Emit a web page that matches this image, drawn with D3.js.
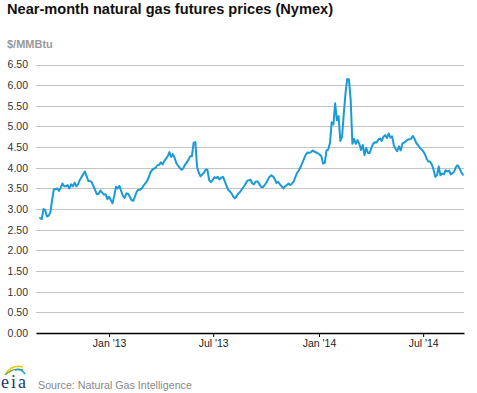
<!DOCTYPE html>
<html>
<head>
<meta charset="utf-8">
<script src="https://cdn.jsdelivr.net/npm/d3@7/dist/d3.min.js"></script>
<style>
  html, body { margin: 0; padding: 0; background: #fff; }
  svg { display: block; font-family: "Liberation Sans", Arial, sans-serif; }
</style>
</head>
<body>
<svg id="chart" width="477" height="393"></svg>
<script>
// ---- Data ----
const title = "Near-month natural gas futures prices (Nymex)";
const unitLabel = "$/MMBtu";
const sourceText = "Source: Natural Gas Intelligence";
const seriesStart = "2012-09-03";   // first observation
const stepDays = 3;                 // spacing between observations
const prices = [
  2.78, 2.76, 3.00, 2.98, 2.82, 2.84, 2.92, 3.22, 3.48, 3.48,
  3.50, 3.44, 3.52, 3.62, 3.55, 3.55, 3.58, 3.50, 3.60, 3.55,
  3.64, 3.55, 3.60, 3.70, 3.77, 3.84, 3.91, 3.80, 3.68, 3.68,
  3.65, 3.55, 3.45, 3.36, 3.37, 3.45, 3.40, 3.35, 3.36, 3.24,
  3.30, 3.22, 3.14, 3.32, 3.54, 3.50, 3.56, 3.44, 3.32, 3.27,
  3.38, 3.37, 3.30, 3.22, 3.20, 3.30, 3.42, 3.47, 3.47, 3.50,
  3.57, 3.62, 3.68, 3.77, 3.89, 3.95, 3.98, 4.00, 4.06, 4.07,
  4.13, 4.08, 4.16, 4.22, 4.28, 4.38, 4.26, 4.33, 4.24, 4.11,
  4.05, 4.00, 3.95, 3.99, 4.07, 4.13, 4.19, 4.28, 4.28, 4.60,
  4.62, 4.02, 3.88, 3.79, 3.84, 3.88, 3.96, 3.95, 3.70, 3.65,
  3.70, 3.77, 3.75, 3.78, 3.72, 3.76, 3.78, 3.68, 3.57, 3.47,
  3.43, 3.38, 3.30, 3.26, 3.32, 3.38, 3.42, 3.48, 3.54, 3.60,
  3.68, 3.70, 3.71, 3.62, 3.60, 3.67, 3.67, 3.61, 3.54, 3.53,
  3.57, 3.63, 3.71, 3.78, 3.82, 3.79, 3.73, 3.63, 3.66, 3.60,
  3.55, 3.50, 3.55, 3.58, 3.62, 3.58, 3.62, 3.67, 3.78, 3.88,
  3.94, 4.02, 4.12, 4.22, 4.32, 4.37, 4.36, 4.38, 4.42, 4.39,
  4.37, 4.35, 4.32, 4.28, 4.10, 4.12, 4.42, 4.44, 4.60, 5.10,
  5.05, 5.56, 5.15, 5.25, 4.65, 4.75, 5.30, 5.80, 6.15, 6.14,
  5.65, 4.58, 4.70, 4.58, 4.67, 4.58, 4.43, 4.55, 4.31, 4.48,
  4.36, 4.36, 4.48, 4.58, 4.62, 4.61, 4.68, 4.71, 4.65, 4.75,
  4.79, 4.72, 4.83, 4.73, 4.76, 4.55, 4.46, 4.40, 4.52, 4.42,
  4.59, 4.61, 4.64, 4.68, 4.69, 4.70, 4.77, 4.70, 4.60, 4.55,
  4.49, 4.44, 4.40, 4.33, 4.22, 4.15, 4.15, 4.08, 3.96, 3.78,
  3.82, 4.03, 3.82, 3.86, 3.84, 3.94, 3.91, 3.93, 3.84, 3.87,
  3.91, 4.02, 4.06, 3.99, 3.90, 3.83
];
const xDomain = ["2012-08-27", "2014-09-10"];
const xTickDates = ["2013-01-01", "2013-07-01", "2014-01-01", "2014-07-01"];
const xTickLabels = ["Jan '13", "Jul '13", "Jan '14", "Jul '14"];
const yTicks = [0, 0.5, 1, 1.5, 2, 2.5, 3, 3.5, 4, 4.5, 5, 5.5, 6, 6.5];

// ---- Build ----
const parse = d3.utcParse("%Y-%m-%d");
const start = parse(seriesStart);
const data = prices.map((v, i) => ({ date: d3.utcDay.offset(start, i * stepDays), value: v }));

const svg = d3.select("#chart");
const plot = { left: 36, right: 464, top: 64.5, bottom: 333 };

const x = d3.scaleUtc().domain(xDomain.map(parse)).range([plot.left, plot.right]);
const y = d3.scaleLinear().domain([0, 6.5]).range([plot.bottom, plot.top]);

// Title
svg.append("text").attr("x", 7).attr("y", 14)
  .attr("font-size", "14.6px").attr("font-weight", "bold").attr("fill", "#111")
  .text(title);

// Unit label
svg.append("text").attr("x", 7).attr("y", 48)
  .attr("font-size", "11px").attr("font-weight", "bold").attr("fill", "#999")
  .text(unitLabel);

// Gridlines (y axis)
const yAxis = d3.axisLeft(y).tickValues(yTicks).tickFormat(d3.format(".2f"))
  .tickSize(-(plot.right - plot.left)).tickPadding(8);
const gy = svg.append("g").attr("transform", `translate(${plot.left},0)`).call(yAxis);
gy.select(".domain").remove();
gy.selectAll(".tick line").attr("stroke", "#c4c4c4").attr("stroke-width", 1)
  .attr("shape-rendering", "crispEdges");
gy.selectAll(".tick text").attr("font-size", "10.5px").attr("fill", "#333")
  .attr("font-family", "Liberation Sans, Arial, sans-serif");
gy.selectAll(".tick").filter(d => d === 0).select("line").remove();

// Line
const line = d3.line().x(d => x(d.date)).y(d => y(d.value));
svg.append("path").datum(data)
  .attr("fill", "none").attr("stroke", "#1a9ad6").attr("stroke-width", 2)
  .attr("stroke-linejoin", "round").attr("stroke-linecap", "round")
  .attr("d", line);

// X axis
const xAxis = d3.axisBottom(x).tickValues(xTickDates.map(parse))
  .tickFormat((d, i) => xTickLabels[i]).tickSize(4).tickSizeOuter(0).tickPadding(3);
const gx = svg.append("g").attr("transform", `translate(0,${plot.bottom})`).call(xAxis);
gx.select(".domain").attr("stroke", "#000").attr("stroke-width", 1.3);
gx.selectAll(".tick line").attr("stroke", "#000");
gx.selectAll(".tick text").attr("font-size", "10.5px").attr("fill", "#222")
  .attr("font-family", "Liberation Sans, Arial, sans-serif");

// EIA logo
const logo = svg.append("g");
logo.append("path").attr("d", "M6,373 Q13,364 23,367").attr("fill", "none")
  .attr("stroke", "#f2c500").attr("stroke-width", 1.6);
logo.append("path").attr("d", "M5,375 Q13,367 23,370").attr("fill", "none")
  .attr("stroke", "#6cb33f").attr("stroke-width", 1.6);
logo.append("path").attr("d", "M15,370 Q21,368 25,374").attr("fill", "none")
  .attr("stroke", "#1c9ad6").attr("stroke-width", 1.6);
logo.append("text").attr("x", 1).attr("y", 388)
  .attr("font-family", "Liberation Serif, DejaVu Serif, serif").attr("font-size", "18px")
  .attr("fill", "#1d3b6e").attr("textLength", 25).text("eia");

// Source
svg.append("text").attr("x", 38).attr("y", 389)
  .attr("font-size", "10.7px").attr("fill", "#888")
  .text(sourceText);
</script>
</body>
</html>
